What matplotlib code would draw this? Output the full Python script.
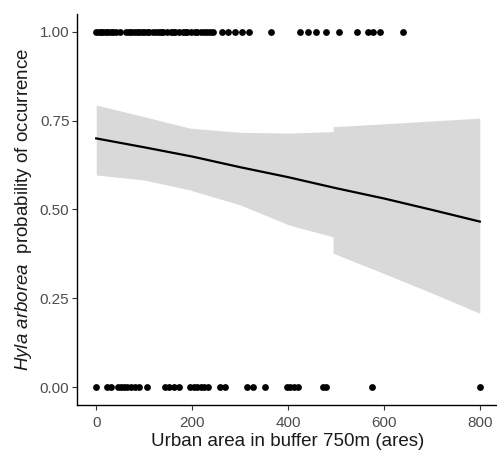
import matplotlib
matplotlib.use('Agg')
import matplotlib.pyplot as plt

plt.rcParams['font.family'] = ['Liberation Sans', 'DejaVu Sans']
plt.rcParams['mathtext.fontset'] = 'custom'
plt.rcParams['mathtext.it'] = 'Liberation Sans:italic'
plt.rcParams['mathtext.rm'] = 'Liberation Sans'

# observed sites (urban area, ares)
present_x = [0, 5, 10, 15, 20, 25, 30, 35, 42, 50,
             63, 68, 72, 78, 85, 90, 95, 100, 105, 110, 118, 125, 130, 135,
             140, 148, 155, 160, 165, 172, 180, 185, 190, 198, 205, 210,
             218, 225, 232, 238, 243,
             262, 275, 289, 304, 318, 364, 425, 442, 459, 479, 506,
             544, 567, 577, 591, 639]
absent_x = [0, 22, 30, 45, 52, 58, 65, 72, 80, 90, 106, 143, 152, 162, 172,
            195, 203, 210, 218, 225, 233, 258, 268, 315, 328, 352,
            398, 405, 412, 420, 474, 480, 575, 800]

# fitted probability
fit_x = [0, 100, 200, 300, 400, 500, 600, 700, 800]
fit_y = [0.700, 0.675, 0.649, 0.619, 0.591, 0.560, 0.531, 0.499, 0.466]

# confidence band
band_x = [0, 100, 195, 300, 403, 494, 494, 600, 700, 800]
band_hi = [0.794, 0.761, 0.729, 0.717, 0.715, 0.719, 0.733, 0.741, 0.749, 0.757]
band_lo = [0.597, 0.583, 0.555, 0.513, 0.456, 0.423, 0.377, 0.320, 0.265, 0.208]

fig = plt.figure(figsize=(4.97, 4.57), dpi=100)
ax = fig.add_axes([0.155, 0.1138, 0.849, 0.8556])

ax.fill_between(band_x, band_lo, band_hi, color='#d9d9d9', linewidth=0, zorder=1)
ax.plot(fit_x, fit_y, color='black', linewidth=1.6, zorder=3)
ax.scatter(present_x, [1] * len(present_x), s=24, color='black', linewidths=0, zorder=4)
ax.scatter(absent_x, [0] * len(absent_x), s=24, color='black', linewidths=0, zorder=4)

ax.set_xlim(-40, 840)
ax.set_ylim(-0.05, 1.05)
ax.set_xticks([0, 200, 400, 600, 800])
ax.set_yticks([0, 0.25, 0.5, 0.75, 1.0])
ax.set_yticklabels(['0.00', '0.25', '0.50', '0.75', '1.00'])

for side in ['top', 'right']:
    ax.spines[side].set_visible(False)
for side in ['left', 'bottom']:
    ax.spines[side].set_linewidth(1.0)
    ax.spines[side].set_color('black')
ax.tick_params(length=3.5, width=0.8, color='#333333', labelcolor='#4d4d4d',
               labelsize=11, pad=2)
ax.tick_params(axis='x', pad=4.5)

ax.set_xlabel('Urban area in buffer 750m (ares)', fontsize=13.5, color='#1a1a1a', labelpad=2)
ax.set_ylabel(r'$\it{Hyla\ arborea}$  probability of occurrence', fontsize=13.5,
              color='#1a1a1a', labelpad=4)

fig.savefig('out.png', dpi=100)
